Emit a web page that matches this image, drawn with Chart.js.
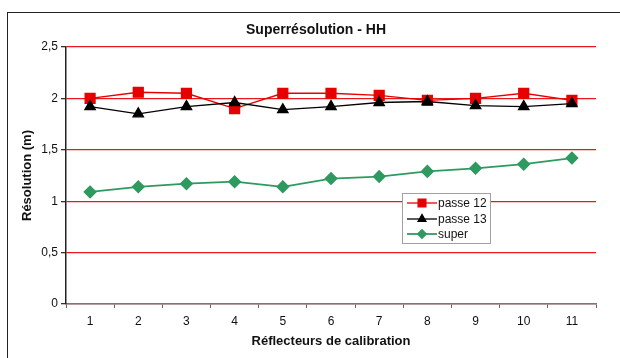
<!DOCTYPE html>
<html lang="fr">
<head>
    <meta charset="UTF-8">
    <title>Superrésolution - HH</title>
    <script src="https://cdn.jsdelivr.net/npm/chart.js"></script>
    <style>
        body {
            margin: 0;
            width: 620px;
            height: 358px;
            overflow: hidden;
            background: #fff;
            position: relative;
        }
        .frame {
            position: absolute;
            left: 7px;
            top: 12px;
            width: 700px;
            height: 400px;
            border: 1.5px solid #222;
        }
        canvas {
            position: absolute;
            left: 0;
            top: 0;
        }
    </style>
</head>
<body>
    <div class="frame"></div>
    <canvas id="chart" width="620" height="358"></canvas>

    <script>
        // valeurs
        let reflecteurs = ["1", "2", "3", "4", "5", "6", "7", "8", "9", "10", "11"];
        let passe12 = [2.00, 2.06, 2.05, 1.90, 2.05, 2.05, 2.03, 1.98, 2.00, 2.05, 1.98];
        let passe13 = [1.92, 1.85, 1.92, 1.96, 1.89, 1.92, 1.96, 1.97, 1.93, 1.92, 1.95];
        let superRes = [1.09, 1.14, 1.17, 1.19, 1.14, 1.22, 1.24, 1.29, 1.32, 1.36, 1.42];
        let yTickLabels = ["0", "0,5", "1", "1,5", "2", "2,5"];

        let fontFam = "'Liberation Sans', Arial, sans-serif";

        // titre + légende encadrée dessinés à la main
        let extras = {
            id: "extras",
            afterDraw(chart) {
                let ctx = chart.ctx;
                ctx.save();
                ctx.fillStyle = "#111";
                ctx.font = "bold 14px " + fontFam;
                ctx.textAlign = "center";
                ctx.textBaseline = "middle";
                ctx.fillText("Superrésolution - HH", 316, 30);

                // légende
                ctx.fillStyle = "#fff";
                ctx.strokeStyle = "#a0a0a0";
                ctx.lineWidth = 1;
                ctx.fillRect(402.5, 193.5, 88, 50);
                ctx.strokeRect(402.5, 193.5, 88, 50);

                let rows = [203, 219, 234];
                chart.data.datasets.forEach((ds, i) => {
                    let y = rows[i];
                    ctx.strokeStyle = ds.borderColor;
                    ctx.lineWidth = ds.borderWidth;
                    ctx.beginPath();
                    ctx.moveTo(407, y);
                    ctx.lineTo(437, y);
                    ctx.stroke();
                    ctx.fillStyle = ds.pointBackgroundColor;
                    ctx.strokeStyle = ds.pointBorderColor;
                    Chart.helpers.drawPoint(ctx, {
                        pointStyle: ds.pointStyle,
                        rotation: 0,
                        radius: ds.legendRadius,
                        borderWidth: 1
                    }, 422, y);
                    ctx.fillStyle = "#111";
                    ctx.font = "12px " + fontFam;
                    ctx.textAlign = "left";
                    ctx.fillText(ds.label, 438, y + 0.5);
                });
                ctx.restore();
            }
        };

        new Chart(document.getElementById("chart"), {
            type: "line",
            data: {
                labels: reflecteurs,
                datasets: [
                    {
                        label: "passe 12",
                        data: passe12,
                        borderColor: "#e60000",
                        borderWidth: 1.3,
                        pointStyle: "rect",
                        pointRadius: 7,
                        legendRadius: 5.5,
                        pointBackgroundColor: "#e60000",
                        pointBorderColor: "#e60000",
                        order: 1
                    },
                    {
                        label: "passe 13",
                        data: passe13,
                        borderColor: "#000",
                        borderWidth: 1.3,
                        pointStyle: "triangle",
                        pointRadius: 6,
                        legendRadius: 4.5,
                        pointBackgroundColor: "#000",
                        pointBorderColor: "#000",
                        order: 0
                    },
                    {
                        label: "super",
                        data: superRes,
                        borderColor: "#2e9a60",
                        borderWidth: 1.8,
                        pointStyle: "rectRot",
                        pointRadius: 5.5,
                        legendRadius: 4,
                        pointBackgroundColor: "#2e9a60",
                        pointBorderColor: "#2e9a60",
                        order: 2
                    }
                ]
            },
            options: {
                responsive: false,
                animation: false,
                layout: { padding: { top: 47, right: 24, bottom: 0, left: 0 } },
                plugins: {
                    legend: { display: false },
                    title: { display: false },
                    tooltip: { enabled: false }
                },
                scales: {
                    x: {
                        offset: true,
                        afterFit: (scale) => { scale.height = 54; },
                        grid: {
                            drawOnChartArea: false,
                            offset: true,
                            tickLength: 4,
                            color: "#666"
                        },
                        border: { color: "#777", width: 1.5 },
                        ticks: {
                            padding: 6,
                            color: "#111",
                            font: { family: fontFam, size: 12 }
                        },
                        title: {
                            display: true,
                            text: "Réflecteurs de calibration",
                            color: "#111",
                            font: { family: fontFam, size: 13, weight: "bold" },
                            padding: { top: 2, bottom: 9 }
                        }
                    },
                    y: {
                        min: 0,
                        max: 2.5,
                        afterFit: (scale) => { scale.width = 66; },
                        grid: {
                            color: "#e8191c",
                            lineWidth: 1.3,
                            tickLength: 5,
                            tickColor: "#333"
                        },
                        border: { color: "#222", width: 1.5 },
                        ticks: {
                            stepSize: 0.5,
                            padding: 3,
                            color: "#111",
                            font: { family: fontFam, size: 12 },
                            callback: (value, index) => yTickLabels[index]
                        },
                        title: {
                            display: true,
                            text: "Résolution (m)",
                            color: "#111",
                            font: { family: fontFam, size: 13, weight: "bold" },
                            padding: { top: 20, bottom: 2 }
                        }
                    }
                }
            },
            plugins: [extras]
        });
    </script>
</body>
</html>
